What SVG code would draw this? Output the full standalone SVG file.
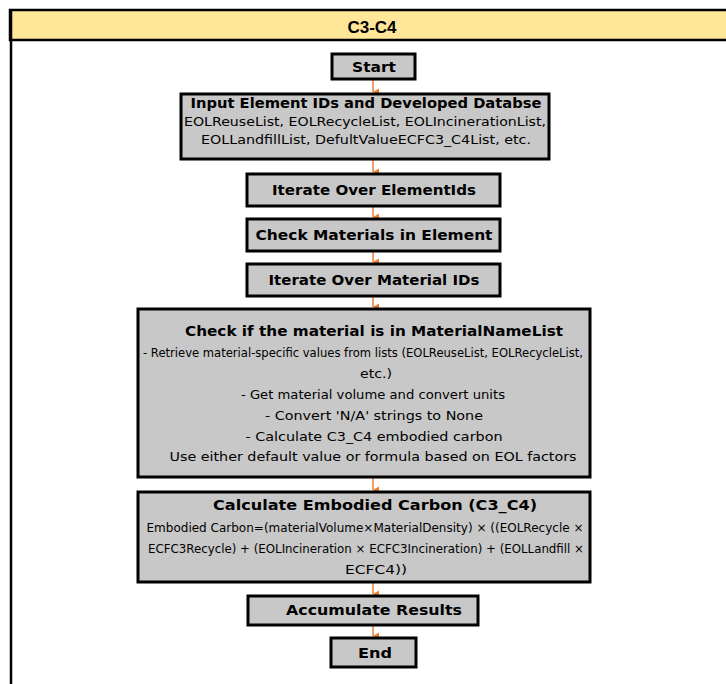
<svg xmlns="http://www.w3.org/2000/svg" width="726" height="684" viewBox="0 0 726 684">
  <defs>
    <marker id="arrow" viewBox="0 0 8 8" refX="4" refY="8" markerWidth="8" markerHeight="8" markerUnits="userSpaceOnUse" orient="auto-start-reverse">
      <path d="M0.5,2 L7.5,2 L4,8 Z" fill="#ed7d31"/>
    </marker>
    <style>
      .box { fill: #c8c8c8; stroke: #000; stroke-width: 3; }
      .title { font-family: "DejaVu Sans", Verdana, sans-serif; font-weight: bold; font-size: 14px; fill: #000; text-anchor: middle; }
      .body { font-family: "DejaVu Sans", Verdana, sans-serif; font-size: 12px; fill: #000; text-anchor: middle; }
      .link { stroke: #ed7d31; stroke-width: 1.5; fill: none; marker-end: url(#arrow); }
    </style>
  </defs>
  <rect width="726" height="684" fill="#fff"/>

  <!-- swimlane frame -->
  <g id="lane">
    <rect x="10" y="10" width="730" height="30" fill="#ffe699" stroke="#000" stroke-width="2.5"/>
    <line x1="11" y1="10" x2="11" y2="684" stroke="#000" stroke-width="2.5"/>
    <text x="372" y="32.5" font-family="'Liberation Sans', Arial, sans-serif" font-weight="bold" font-size="17" text-anchor="middle">C3-C4</text>
  </g>

  <!-- connectors -->
  <g id="connectors">
    <line class="link" x1="373" y1="80" x2="373" y2="92"/>
    <line class="link" x1="373" y1="160" x2="373" y2="172"/>
    <line class="link" x1="373" y1="207" x2="373" y2="217"/>
    <line class="link" x1="373" y1="252" x2="373" y2="262"/>
    <line class="link" x1="373" y1="297" x2="373" y2="307"/>
    <line class="link" x1="373" y1="478" x2="373" y2="490"/>
    <line class="link" x1="373" y1="583" x2="373" y2="594"/>
    <line class="link" x1="373" y1="626" x2="373" y2="636"/>
  </g>

  <g id="start">
    <rect class="box" x="332" y="54" width="83" height="25"/>
    <text class="title" x="374" y="72" textLength="44" lengthAdjust="spacingAndGlyphs">Start</text>
  </g>

  <g id="input">
    <rect class="box" x="181" y="94" width="368" height="65"/>
    <text class="title" x="366" y="108" textLength="351" lengthAdjust="spacingAndGlyphs">Input Element IDs and Developed Databse</text>
    <text class="body" x="365" y="125.5" textLength="362" lengthAdjust="spacingAndGlyphs">EOLReuseList, EOLRecycleList, EOLIncinerationList,</text>
    <text class="body" x="366" y="143.5" textLength="330" lengthAdjust="spacingAndGlyphs">EOLLandfillList, DefultValueECFC3_C4List, etc.</text>
  </g>

  <g id="iterate-elements">
    <rect class="box" x="247" y="174" width="253" height="32"/>
    <text class="title" x="374" y="195" textLength="204" lengthAdjust="spacingAndGlyphs">Iterate Over ElementIds</text>
  </g>

  <g id="check-materials">
    <rect class="box" x="247" y="219" width="253" height="32"/>
    <text class="title" x="374" y="239.5" textLength="237" lengthAdjust="spacingAndGlyphs">Check Materials in Element</text>
  </g>

  <g id="iterate-materials">
    <rect class="box" x="247" y="264" width="253" height="32"/>
    <text class="title" x="374" y="284.5" textLength="211" lengthAdjust="spacingAndGlyphs">Iterate Over Material IDs</text>
  </g>

  <g id="check-name-list">
    <rect class="box" x="138" y="309" width="452" height="168"/>
    <text class="title" x="374" y="336" textLength="378" lengthAdjust="spacingAndGlyphs">Check if the material is in MaterialNameList</text>
    <text class="body" x="363" y="356.5" textLength="440" lengthAdjust="spacingAndGlyphs">- Retrieve material-specific values from lists (EOLReuseList, EOLRecycleList,</text>
    <text class="body" x="376" y="377.5" textLength="32" lengthAdjust="spacingAndGlyphs">etc.)</text>
    <text class="body" x="373" y="398.5" textLength="264" lengthAdjust="spacingAndGlyphs">- Get material volume and convert units</text>
    <text class="body" x="374" y="419.5" textLength="218" lengthAdjust="spacingAndGlyphs">- Convert 'N/A' strings to None</text>
    <text class="body" x="374" y="440.5" textLength="257" lengthAdjust="spacingAndGlyphs">- Calculate C3_C4 embodied carbon</text>
    <text class="body" x="373" y="460.5" textLength="407" lengthAdjust="spacingAndGlyphs">Use either default value or formula based on EOL factors</text>
  </g>

  <g id="calculate">
    <rect class="box" x="138" y="492" width="452" height="90"/>
    <text class="title" x="375" y="510" textLength="324" lengthAdjust="spacingAndGlyphs">Calculate Embodied Carbon (C3_C4)</text>
    <text class="body" x="365" y="531.5" textLength="437" lengthAdjust="spacingAndGlyphs">Embodied Carbon=(materialVolume×MaterialDensity) × ((EOLRecycle ×</text>
    <text class="body" x="366" y="552.5" textLength="436" lengthAdjust="spacingAndGlyphs">ECFC3Recycle) + (EOLIncineration × ECFC3Incineration) + (EOLLandfill ×</text>
    <text class="body" x="376" y="573.5" textLength="62" lengthAdjust="spacingAndGlyphs">ECFC4))</text>
  </g>

  <g id="accumulate">
    <rect class="box" x="248" y="596" width="230" height="29"/>
    <text class="title" x="374" y="615" textLength="176" lengthAdjust="spacingAndGlyphs">Accumulate Results</text>
  </g>

  <g id="end">
    <rect class="box" x="331" y="638" width="85" height="29"/>
    <text class="title" x="375" y="657.5" textLength="34" lengthAdjust="spacingAndGlyphs">End</text>
  </g>
</svg>
